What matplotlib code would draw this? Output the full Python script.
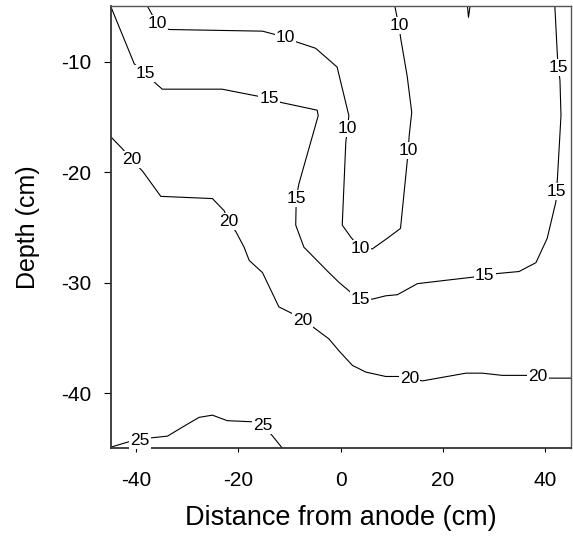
import matplotlib
matplotlib.use("Agg")
import matplotlib.pyplot as plt

plt.rcParams['font.family'] = ['Liberation Sans', 'DejaVu Sans']
plt.rcParams['axes.unicode_minus'] = False

# contour traces (distance cm, depth cm)
c10_x = [-37.8, -35.9, -33.6, -15.3, -10.8, -8.8, -4.9, -0.7, 1.6, 1.3, 1.0, 0.3, 2.0, 3.9, 6.2,
         9.1, 11.7, 13.0, 13.2, 13.4, 13.9, 13.0, 11.7, 11.4, 10.9, 10.6]
c10_y = [-5.0, -6.6, -7.1, -7.25, -7.8, -8.2, -8.8, -10.5, -14.9, -16.1, -17.3, -24.8, -25.9, -26.95, -26.95,
         -26.0, -25.1, -19.1, -18.05, -16.7, -14.6, -11.3, -7.8, -6.7, -5.7, -5.0]

c15_x = [-45.0, -40.4, -38.2, -35.9, -34.9, -23.2, -16.6, -14.0, -11.7, -4.6, -4.4, -8.2, -8.7, -8.8,
         -7.2, -2.3, -0.3, 2.0, 3.9, 6.2, 8.8, 11.1, 15.0, 20.5, 26.1, 28.2, 30.3, 34.9, 38.2, 40.4,
         42.1, 42.2, 42.4, 43.1, 42.9, 42.6, 42.4, 41.9]
c15_y = [-5.0, -10.2, -11.1, -12.1, -12.5, -12.5, -13.1, -13.3, -13.7, -14.4, -14.9, -21.1, -22.4, -24.8,
         -26.8, -29.1, -30.0, -30.9, -31.5, -31.5, -31.2, -31.1, -30.1, -29.8, -29.5, -29.4, -29.2, -29.0, -28.2, -26.0,
         -22.7, -21.8, -20.6, -14.9, -11.7, -10.5, -9.5, -5.0]

c20_x = [-45.0, -42.7, -40.9, -38.8, -35.2, -25.1, -22.8, -21.9, -20.5, -18.9, -17.9, -15.3, -12.1,
         -9.5, -7.5, -5.2, -2.3, -0.3, 2.3, 4.9, 8.8, 11.4, 13.5, 16.0, 24.5, 27.7, 31.6, 36.2, 38.6,
         40.8, 45.0]
c20_y = [-16.8, -17.9, -18.9, -19.9, -22.2, -22.4, -23.5, -24.5, -25.4, -26.8, -28.0, -29.1, -32.2,
         -32.8, -33.4, -34.1, -35.1, -36.2, -37.5, -38.1, -38.5, -38.5, -38.65, -38.9, -38.2, -38.2, -38.4, -38.4, -38.5,
         -38.65, -38.65]

c25_x = [-45.0, -41.4, -39.3, -37.0, -33.9, -30.3, -27.7, -25.1, -22.2, -17.3, -15.2, -13.4, -11.4]
c25_y = [-44.9, -44.4, -44.3, -44.05, -43.9, -42.9, -42.2, -42.0, -42.5, -42.6, -42.9, -43.85, -45.0]

# tiny closed bit at the top edge
ctop_x = [24.8, 25.0, 25.3]
ctop_y = [-5.0, -6.0, -5.0]

# inline label spots for each level
labels_10 = [(-35.9, -6.6), (-10.8, -7.8), (1.3, -16.1), (3.9, -26.95), (13.2, -18.05), (11.4, -6.7)]
labels_15 = [(-38.2, -11.1), (-14.0, -13.3), (-8.7, -22.4), (3.9, -31.5), (28.2, -29.4), (42.2, -21.8), (42.6, -10.5)]
labels_20 = [(-40.9, -18.9), (-21.9, -24.5), (-7.5, -33.4), (13.5, -38.65), (38.6, -38.5)]
labels_25 = [(-39.3, -44.3), (-15.2, -42.9)]

x_ticks = [-40, -20, 0, 20, 40]
y_ticks = [-40, -30, -20, -10]


fig = plt.figure(figsize=(5.73, 5.41), dpi=100)
ax = fig.add_axes([110.7/573, 1 - 448.3/541, 460/573, 442/541])

for xs, ys in [(c10_x, c10_y), (c15_x, c15_y), (c20_x, c20_y), (c25_x, c25_y), (ctop_x, ctop_y)]:
    ax.plot(xs, ys, color='black', lw=0.8)

for level, pts in [("10", labels_10), ("15", labels_15), ("20", labels_20), ("25", labels_25)]:
    for x, y in pts:
        ax.text(x, y, level, ha='center', va='center', fontsize=12.5, zorder=5,
                bbox=dict(facecolor='white', edgecolor='none', pad=0.8))

ax.set_xlim(-45, 45)
ax.set_ylim(-45, -5)
ax.set_xticks(x_ticks)
ax.set_yticks(y_ticks)
ax.tick_params(axis='x', direction='out', length=3, width=0.8, pad=13, labelsize=15)
ax.tick_params(axis='y', direction='out', length=5, width=0.8, pad=9, labelsize=15)

for side in ['left', 'bottom']:
    ax.spines[side].set_linewidth(1.3)
    ax.spines[side].set_color('#333333')
for side in ['top', 'right']:
    ax.spines[side].set_linewidth(1.0)
    ax.spines[side].set_color('#555555')

ax.set_xlabel("Distance from anode (cm)", fontsize=19.5, labelpad=11)
ax.set_ylabel("Depth (cm)", fontsize=18, labelpad=15)

fig.savefig("out.png", dpi=100)
